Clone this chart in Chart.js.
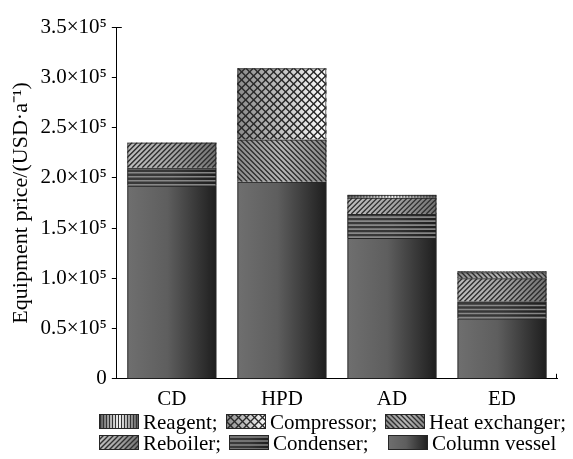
<!DOCTYPE html>
<html>
<head>
<meta charset="utf-8">
<script src="https://cdn.jsdelivr.net/npm/chart.js@4.4.0/dist/chart.umd.min.js"></script>
<style>
  body { margin: 0; background: #fff; }
  #wrap { position: relative; width: 573px; height: 459px; }
  #box { position: absolute; left: 0; top: 0; width: 573px; height: 412px; }
  .item { position: absolute; height: 18px; font-family: "Liberation Serif", "Times New Roman", Times, serif; font-size: 21px; line-height: 24px; color: #000; white-space: nowrap; }
  .item canvas { position: absolute; left: 0; top: 0; }
  .item span { position: absolute; left: 44px; top: -4px; }
</style>
</head>
<body>
<div id="wrap">
  <div id="box"><canvas id="chart"></canvas></div>
  <div id="legend"></div>
</div>
<script>
// Data (USD per year)
const categories = ["CD", "HPD", "AD", "ED"];
const columnVessel = [192000, 196000, 140000, 60000];
const condenser = [18000, 0, 24000, 17000];
const reboiler = [25000, 0, 16000, 23000];
const heatExchanger = [0, 42000, 0, 6000];
const compressor = [0, 71000, 0, 0];
const reagent = [0, 0, 3000, 1000];
const yTicks = [0, 50000, 100000, 150000, 200000, 250000, 300000, 350000];

const serif = "'Liberation Serif', 'Times New Roman', Times, serif";

// fill styles: gradient + hatch
function hatch(ctx, x, y, w, h, step, dir, color, lw) {
  ctx.save();
  ctx.beginPath();
  ctx.rect(x, y, w, h);
  ctx.clip();
  ctx.strokeStyle = color;
  ctx.lineWidth = lw;
  ctx.beginPath();
  if (dir === "h") {
    for (let yy = y + h - 1; yy > y; yy -= step) { ctx.moveTo(x, yy); ctx.lineTo(x + w, yy); }
  } else if (dir === "v") {
    for (let xx = x + 1.5; xx < x + w; xx += step) { ctx.moveTo(xx, y); ctx.lineTo(xx, y + h); }
  } else {
    for (let xx = x - h - step; xx < x + w + h; xx += step) {
      if (dir === "/") { ctx.moveTo(xx, y + h); ctx.lineTo(xx + h, y); }
      else { ctx.moveTo(xx, y); ctx.lineTo(xx + h, y + h); }
    }
  }
  ctx.stroke();
  ctx.restore();
}

function grad(ctx, x, w, stops) {
  const g = ctx.createLinearGradient(x, 0, x + w, 0);
  stops.forEach(s => g.addColorStop(s[0], s[1]));
  return g;
}

function drawFill(ctx, kind, x, y, w, h) {
  if (kind === "column") {
    ctx.fillStyle = grad(ctx, x, w, [[0, "#6f6f6f"], [0.45, "#5e5e5e"], [1, "#1e1e1e"]]);
    ctx.fillRect(x, y, w, h);
  } else if (kind === "condenser") {
    ctx.fillStyle = grad(ctx, x, w, [[0, "#3a3a3a"], [0.5, "#363636"], [1, "#1e1e1e"]]);
    ctx.fillRect(x, y, w, h);
    hatch(ctx, x, y, w, h, 4, "h", "rgba(150,150,150,0.85)", 1.6);
  } else if (kind === "reboiler") {
    ctx.fillStyle = grad(ctx, x, w, [[0, "#bdbdbd"], [0.5, "#a5a5a5"], [1, "#727272"]]);
    ctx.fillRect(x, y, w, h);
    hatch(ctx, x, y, w, h, 5, "/", "#2e2e2e", 1.4);
  } else if (kind === "heat") {
    ctx.fillStyle = grad(ctx, x, w, [[0, "#8c8c8c"], [0.5, "#b8b8b8"], [1, "#8a8a8a"]]);
    ctx.fillRect(x, y, w, h);
    hatch(ctx, x, y, w, h, 5, "\\", "#2e2e2e", 1.4);
  } else if (kind === "compressor") {
    ctx.fillStyle = grad(ctx, x, w, [[0, "#8a8a8a"], [0.6, "#cfcfcf"], [1, "#ffffff"]]);
    ctx.fillRect(x, y, w, h);
    hatch(ctx, x, y, w, h, 8, "/", "#2a2a2a", 1.4);
    hatch(ctx, x, y, w, h, 8, "\\", "#2a2a2a", 1.4);
  } else if (kind === "reagent") {
    ctx.fillStyle = grad(ctx, x, w, [[0, "#555"], [0.5, "#f4f4f4"], [1, "#555"]]);
    ctx.fillRect(x, y, w, h);
    hatch(ctx, x, y, w, h, 3, "v", "#333", 1);
  }
}

const series = [
  { label: "Column vessel", data: columnVessel, kind: "column" },
  { label: "Condenser", data: condenser, kind: "condenser" },
  { label: "Reboiler", data: reboiler, kind: "reboiler" },
  { label: "Heat exchanger", data: heatExchanger, kind: "heat" },
  { label: "Compressor", data: compressor, kind: "compressor" },
  { label: "Reagent", data: reagent, kind: "reagent" }
];

const fillPlugin = {
  id: "fills",
  beforeDatasetsDraw(chart) {
    const ctx = chart.ctx;
    chart.data.datasets.forEach((ds, i) => {
      chart.getDatasetMeta(i).data.forEach((bar, j) => {
        if (!ds.data[j]) return;
        const top = Math.min(bar.y, bar.base);
        const hh = Math.abs(bar.base - bar.y);
        drawFill(ctx, ds.kind, bar.x - bar.width / 2, top, bar.width, hh);
      });
    });
  },
  // little corner stubs of the frame
  afterDraw(chart) {
    const { ctx, chartArea: a } = chart;
    ctx.save();
    ctx.strokeStyle = "#000";
    ctx.lineWidth = 1;
    ctx.beginPath();
    ctx.moveTo(a.left, Math.round(a.top) + 0.5);
    ctx.lineTo(a.left + 5, Math.round(a.top) + 0.5);
    ctx.moveTo(Math.round(a.right) - 0.5, a.bottom);
    ctx.lineTo(Math.round(a.right) - 0.5, a.bottom - 5);
    ctx.stroke();
    ctx.restore();
  }
};

const fmt = v => v === 0 ? "0" : (v / 100000).toFixed(1) + "×10⁵";

new Chart(document.getElementById("chart"), {
  type: "bar",
  data: {
    labels: categories,
    datasets: series.map(s => ({
      label: s.label,
      data: s.data,
      kind: s.kind,
      backgroundColor: "rgba(0,0,0,0)",
      borderColor: "#262626",
      borderWidth: c => (c.raw ? 1 : 0),
      barPercentage: 0.81,
      categoryPercentage: 1
    }))
  },
  options: {
    responsive: true,
    maintainAspectRatio: false,
    animation: false,
    layout: { padding: { top: 27, right: 16, left: 8 } },
    plugins: { legend: { display: false }, tooltip: { enabled: false } },
    scales: {
      x: {
        stacked: true,
        grid: { display: false },
        border: { display: true, color: "#000", width: 1 },
        ticks: { color: "#000", font: { family: serif, size: 21 }, padding: 0 }
      },
      y: {
        stacked: true,
        min: 0,
        max: 350000,
        afterBuildTicks: axis => { axis.ticks = yTicks.map(v => ({ value: v })); },
        grid: { display: true, drawOnChartArea: false, drawTicks: true, tickLength: 5, color: "#000" },
        border: { display: true, color: "#000", width: 1 },
        ticks: { color: "#000", font: { family: serif, size: 21 }, padding: 5, callback: fmt },
        title: {
          display: true,
          text: "Equipment price/(USD·a⁻¹)",
          color: "#000",
          font: { family: serif, size: 22 },
          padding: { top: 0, bottom: 1 }
        }
      }
    }
  },
  plugins: [fillPlugin]
});

// legend, two rows like the original
const legendRows = [
  [["Reagent;", "reagent", 99], ["Compressor;", "compressor", 226], ["Heat exchanger;", "heat", 385]],
  [["Reboiler;", "reboiler", 99], ["Condenser;", "condenser", 229], ["Column vessel", "column", 388]]
];
const legend = document.getElementById("legend");
legendRows.forEach((row, r) => {
  row.forEach(([text, kind, left]) => {
    const item = document.createElement("div");
    item.className = "item";
    item.style.left = left + "px";
    item.style.top = (414 + r * 21) + "px";
    const c = document.createElement("canvas");
    c.width = 40; c.height = 15;
    const cx = c.getContext("2d");
    drawFill(cx, kind, 0, 0, 40, 15);
    cx.strokeStyle = "#262626";
    cx.lineWidth = 1;
    cx.strokeRect(0.5, 0.5, 39, 14);
    const s = document.createElement("span");
    s.textContent = text;
    item.appendChild(c);
    item.appendChild(s);
    legend.appendChild(item);
  });
});
</script>
</body>
</html>
